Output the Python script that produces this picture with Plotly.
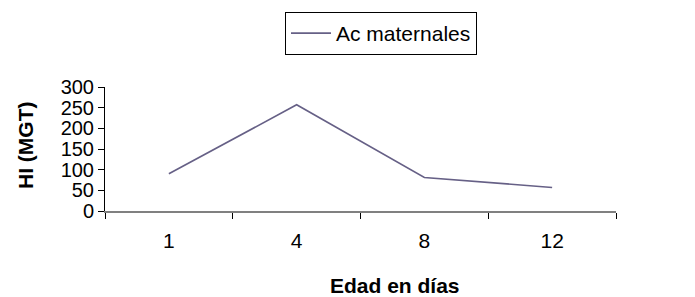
import plotly.graph_objects as go

categories = ["1", "4", "8", "12"]
values = [90, 257, 81, 57]
series_name = "Ac maternales"
y_ticks = [0, 50, 100, 150, 200, 250, 300]
x_title = "<b>Edad en días</b>"
y_title = "<b>HI (MGT)</b>"

fig = go.Figure()
fig.add_trace(go.Scatter(
    x=categories, y=values, mode="lines", name=series_name,
    line=dict(color="#666086", width=1.6),
))

fig.update_layout(
    width=695, height=297,
    margin=dict(l=105, r=79, t=87, b=86, autoexpand=False),
    paper_bgcolor="white", plot_bgcolor="white",
    font=dict(family="Liberation Sans, Arial", color="black"),
    showlegend=True,
    legend=dict(
        xref="container", yref="container",
        x=285 / 695, y=1 - 12 / 297, xanchor="left", yanchor="top",
        bordercolor="black", borderwidth=1,
        font=dict(size=21, color="black"),
        itemwidth=40,
    ),
    xaxis=dict(
        type="category",
        tickson="boundaries",
        ticks="outside", ticklen=6, tickcolor="black",
        showline=True, linecolor="#808080", linewidth=2,
        showgrid=False, zeroline=False,
        tickfont=dict(size=21),
        tickangle=0,
        ticklabelstandoff=10,
        automargin=False,
        range=[-0.5, 3.5],
    ),
    yaxis=dict(
        range=[0, 300], tickvals=y_ticks,
        ticks="outside", ticklen=6, tickcolor="black",
        showline=True, linecolor="black", linewidth=1,
        showgrid=False, zeroline=False,
        tickfont=dict(size=20),
        automargin=False,
    ),
    annotations=[
        dict(text=x_title, xref="paper", yref="paper",
             x=(395 - 105) / 511, y=(211 - 285) / 124,
             xanchor="center", yanchor="middle", showarrow=False,
             font=dict(size=21, color="black")),
        dict(text=y_title, xref="paper", yref="paper",
             x=(25 - 105) / 511, y=(211 - 146) / 124, textangle=-90,
             xanchor="center", yanchor="middle", showarrow=False,
             font=dict(size=21, color="black")),
    ],
)

fig.write_html("out.html", config={"displayModeBar": False},
               post_script="document.body.style.margin='0';")
